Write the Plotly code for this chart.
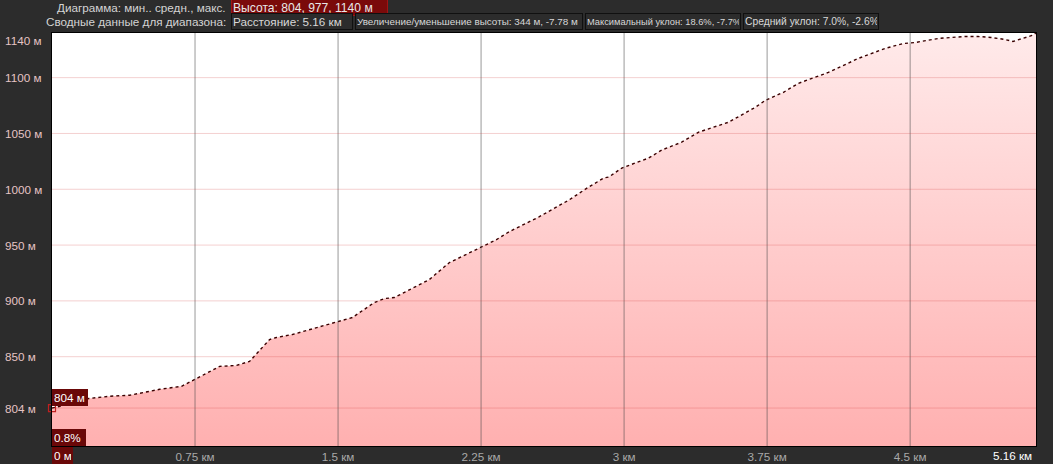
import plotly.graph_objects as go

# ---- data ----
dist_km = [0.0, 0.042, 0.110, 0.304, 0.408, 0.565, 0.680, 0.748, 0.879, 0.968, 1.036,
           1.141, 1.177, 1.261, 1.413, 1.491, 1.575, 1.690, 1.743, 1.795, 1.900, 1.978,
           2.083, 2.187, 2.240, 2.329, 2.397, 2.554, 2.711, 2.815, 2.894, 2.920, 2.988,
           3.129, 3.197, 3.302, 3.391, 3.548, 3.689, 3.741, 3.836, 3.914, 4.071, 4.228,
           4.369, 4.464, 4.527, 4.647, 4.788, 4.856, 4.924, 4.997, 5.039, 5.092, 5.139, 5.16]
elev_m = [804, 805.6, 811, 814.6, 815.5, 820.8, 823.5, 829.7, 841.3, 842.2, 845.8,
          865.4, 867.2, 869.9, 877.1, 880.6, 885.1, 898.5, 902.1, 903.0, 911.9, 919.0,
          934.2, 943.1, 947.6, 954.7, 961.9, 975.3, 990.4, 1002.1, 1010.1, 1011.0, 1019.0,
          1028.0, 1035.1, 1042.2, 1051.2, 1060.1, 1073.5, 1079.7, 1086.9, 1094.9, 1104.7, 1117.2,
          1126.2, 1130.6, 1131.5, 1135.1, 1136.9, 1136.9, 1136.0, 1134.2, 1132.4, 1135.1, 1137.8, 1140]

x_ticks = [0.75, 1.5, 2.25, 3.0, 3.75, 4.5]
x_tick_labels = ["0.75 км", "1.5 км", "2.25 км", "3 км", "3.75 км", "4.5 км"]
y_ticks = [804, 850, 900, 950, 1000, 1050, 1100, 1140]
y_tick_labels = ["804 м", "850 м", "900 м", "950 м", "1000 м", "1050 м", "1100 м", "1140 м"]
x_max = 5.16
y_min, y_max = 770, 1140

header_label_1 = "Диаграмма: мин.. средн., макс."
header_box_1 = "Высота: 804, 977, 1140 м"
header_label_2 = "Сводные данные для диапазона:"
header_boxes_2 = ["Расстояние: 5.16 км",
                  "Увеличение/уменьшение высоты: 344 м, -7.78 м",
                  "Максимальный уклон: 18.6%, -7.7%",
                  "Средний уклон: 7.0%, -2.6%"]
start_elev_label = "804 м"
start_grade_label = "0.8%"
start_dist_label = "0 м"
end_dist_label = "5.16 км"

# ---- layout geometry ----
W, H = 1053, 464
ML, MR, MT, MB = 52, 17, 33, 18
PW, PH = W - ML - MR, H - MT - MB
def px(x):
    return (x - ML) / PW
def py(y):
    return (H - MB - y) / PH

FONT = "Liberation Sans, Arial, sans-serif"
FS = 11.7
BG = "#2c2c2c"

fig = go.Figure()
fig.add_trace(go.Scatter(
    x=dist_km, y=elev_m, mode="lines",
    line=dict(color="#3a0000", width=1.4, dash="dot"),
    fill="tozeroy",
    fillgradient=dict(type="vertical", start=y_min, stop=y_max,
                      colorscale=[[0, "#ffb0b0"], [1, "#ffeaea"]]),
    hoverinfo="skip", showlegend=False,
))
# start marker
fig.add_trace(go.Scatter(
    x=[dist_km[0]], y=[elev_m[0]], mode="markers",
    marker=dict(symbol="square-open", size=7, color="#c02020", line=dict(width=1.2)),
    hoverinfo="skip", showlegend=False, cliponaxis=False,
))

shapes = []
for v in x_ticks:
    shapes.append(dict(type="line", xref="x", yref="paper", x0=v, x1=v, y0=0, y1=1,
                       line=dict(color="rgba(70,70,70,0.55)", width=1), layer="above"))
for v in y_ticks[:-1]:
    shapes.append(dict(type="line", xref="paper", yref="y", x0=0, x1=1, y0=v, y1=v,
                       line=dict(color="rgba(210,60,60,0.24)", width=1), layer="above"))

ann = []
# y labels (left aligned)
for v, t in zip(y_ticks, y_tick_labels):
    ann.append(dict(xref="paper", yref="y", x=px(3), y=v, text=t, xanchor="left",
                    yanchor="middle", showarrow=False,
                    yshift=-7 if v == y_max else 0,
                    font=dict(family=FONT, size=FS, color="#e6c4c4")))

def box(x0, x1, yc, text, bg, border, color="#e8e8e8", h=13, fs=FS):
    return dict(xref="paper", yref="paper", x=px(x0), y=py(yc), text=text,
                xanchor="left", yanchor="middle", showarrow=False,
                width=x1 - x0 - 4, height=h, align="left", borderpad=1,
                bgcolor=bg, bordercolor=border, borderwidth=1,
                font=dict(family=FONT, size=fs, color=color))

ann.append(dict(xref="paper", yref="paper", x=px(228), y=py(7), text=header_label_1,
                xanchor="right", yanchor="middle", showarrow=False,
                font=dict(family=FONT, size=FS, color="#d4d4d4")))
ann.append(box(231, 388, 7, header_box_1, "#7a0a0a", "#a01414", fs=12.1))
ann.append(dict(xref="paper", yref="paper", x=px(228), y=py(22), text=header_label_2,
                xanchor="right", yanchor="middle", showarrow=False,
                font=dict(family=FONT, size=FS, color="#d4d4d4")))
edges = [(231, 353), (355, 583), (585, 741), (743, 879)]
box_sizes = [11.7, 9.9, 9.3, 10.3]
for (a, b), t, s in zip(edges, header_boxes_2, box_sizes):
    ann.append(box(a, b, 22, t, BG, "#101010", color="#d8d8d8", fs=s))

# start labels
ann.append(box(52, 88, 397, start_elev_label, "#6a0808", "#6a0808", color="#ffffff"))
ann.append(box(52, 86, 437, start_grade_label, "#6a0808", "#6a0808", color="#ffffff"))
ann.append(box(52, 73, 455, start_dist_label, "#6a0808", "#6a0808", color="#ffffff"))
ann.append(dict(xref="x", yref="paper", x=x_max, y=py(455), text=end_dist_label,
                xanchor="right", yanchor="middle", showarrow=False, xshift=-2,
                font=dict(family=FONT, size=FS, color="#ffffff")))

fig.update_layout(
    width=W, height=H, margin=dict(l=ML, r=MR, t=MT, b=MB, pad=0, autoexpand=False),
    paper_bgcolor=BG, plot_bgcolor="#ffffff",
    shapes=shapes, annotations=ann, showlegend=False,
    xaxis=dict(range=[0, x_max], tickvals=x_ticks, ticktext=x_tick_labels,
               showgrid=False, zeroline=False, showline=True, mirror=True,
               linecolor="#000000", linewidth=1, ticks="", automargin=False,
               tickfont=dict(family=FONT, size=FS, color="#a8a8a8"),
               fixedrange=True),
    yaxis=dict(range=[y_min, y_max], showticklabels=False, showgrid=False,
               zeroline=False, showline=True, mirror=True, linecolor="#000000",
               linewidth=1, ticks="", automargin=False, fixedrange=True),
)

fig.write_html("out.html", config={"displayModeBar": False},
               post_script="document.body.style.margin='0';document.body.style.overflow='hidden';")
